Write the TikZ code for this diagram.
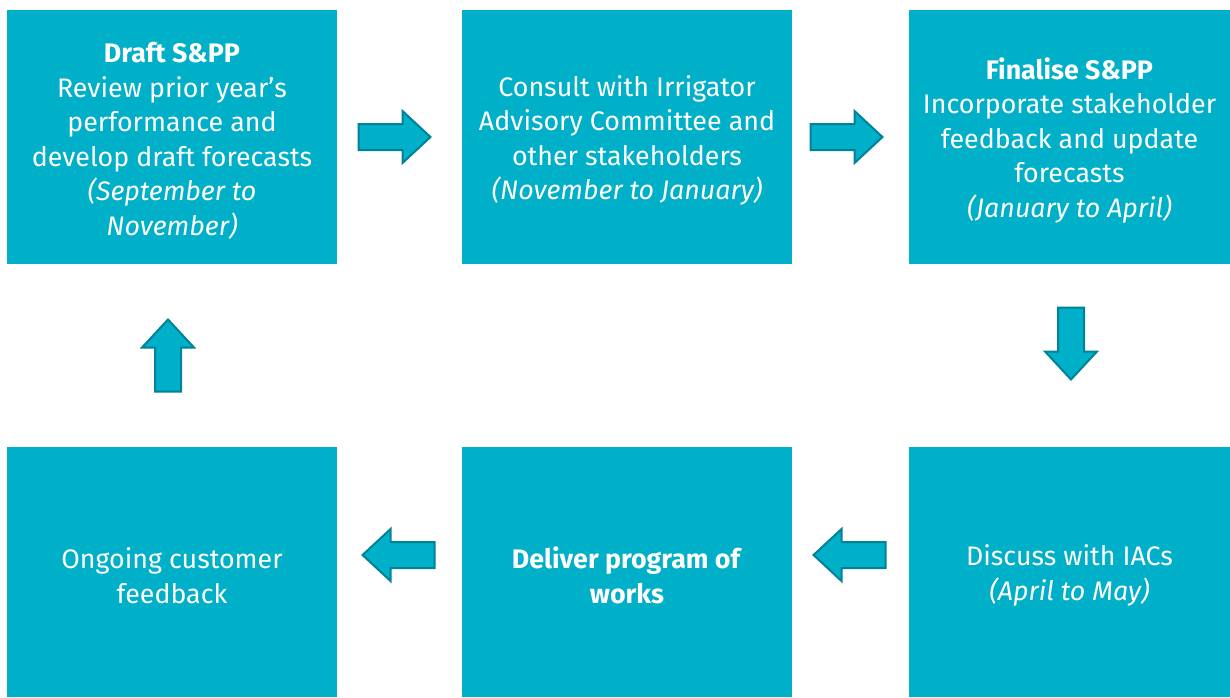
\documentclass[tikz,border=0pt]{standalone}
\usepackage{fontspec}
\setmainfont{Fira Sans}
\usetikzlibrary{calc}
\definecolor{boxfill}{RGB}{0,175,200}
\definecolor{arrowedge}{RGB}{0,130,152}
% taller first line, so that each text block sits a little lower in its box
\newcommand\firstlinegap{\rule{0pt}{28pt}}
\tikzset{
  stepbox/.style={rectangle, fill=boxfill, draw=none, inner sep=0pt,
    minimum width=330pt, minimum height=254pt, text=white, align=center,
    font=\fontsize{26.8}{34.5}\selectfont},
  blockarrow/.pic={
    \draw[fill=boxfill, draw=arrowedge, line width=2pt, line join=miter]
      (-36,-13) -- (8,-13) -- (8,-26) -- (36,0) -- (8,26) -- (8,13) -- (-36,13) -- cycle;
  }
}
\begin{document}
\begin{tikzpicture}[x=1pt, y={(0,-1pt)}]
\useasboundingbox (0,0) rectangle (1230,697);

% top row
\node[stepbox] (draft) at (172,137)
  {\firstlinegap\textbf{Draft S\&PP}\\Review prior year’s\\performance and\\develop draft forecasts\\\textit{(September to}\\\textit{November)}};
\node[stepbox] (consult) at (627,137)
  {\firstlinegap Consult with Irrigator\\Advisory Committee and\\other stakeholders\\\textit{(November to January)}};
\node[stepbox, minimum width=321pt] (final) at (1069.5,137)
  {\firstlinegap\textbf{Finalise S\&PP}\\Incorporate stakeholder\\feedback and update\\forecasts\\\textit{(January to April)}};

% bottom row
\node[stepbox, minimum width=321pt, minimum height=250pt] (discuss) at (1069.5,572)
  {\firstlinegap Discuss with IACs\\\textit{(April to May)}};
\node[stepbox, minimum height=250pt] (deliver) at (627,572)
  {\firstlinegap\textbf{Deliver program of}\\\textbf{works}};
\node[stepbox, minimum height=250pt] (ongoing) at (172,572)
  {\firstlinegap Ongoing customer\\feedback};

% block arrows between the steps
\pic at ($(draft.east)!0.5!(consult.west)+(-5,0)$) {blockarrow};
\pic at ($(consult.east)!0.5!(final.west)+(-4,0)$) {blockarrow};
\pic[rotate=-90] at ($(final.south)!0.5!(discuss.north)+(1.5,-12)$) {blockarrow};
\pic[rotate=180] at ($(discuss.west)!0.5!(deliver.east)+(-1,-17)$) {blockarrow};
\pic[rotate=180] at ($(deliver.west)!0.5!(ongoing.east)+(-1,-17)$) {blockarrow};
\pic[rotate=90] at ($(ongoing.north)!0.5!(draft.south)+(-4,0)$) {blockarrow};
\end{tikzpicture}
\end{document}
